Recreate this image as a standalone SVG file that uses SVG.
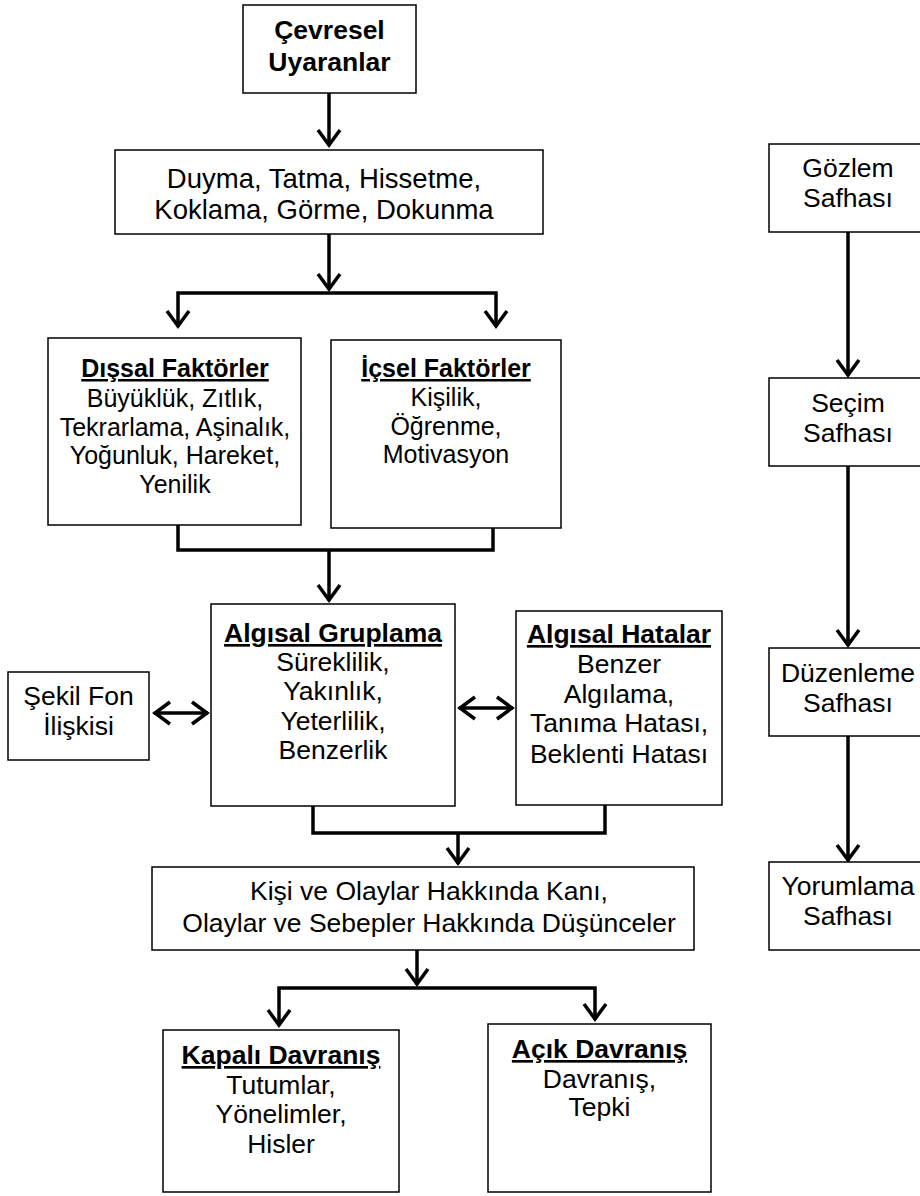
<svg xmlns="http://www.w3.org/2000/svg" width="920" height="1196" viewBox="0 0 920 1196">
<style>
.box{fill:#fff;stroke:#000;stroke-width:1.5}
text{font-family:"Liberation Sans",Arial,sans-serif;font-size:26.5px;fill:#000;text-anchor:middle}
.h{font-weight:bold;text-decoration:underline}
.b{font-weight:bold}
.big{font-size:27.5px}
.sm{font-size:25px}
.c{fill:none;stroke:#000;stroke-width:3.5}
</style>
<defs>
<marker id="ah" viewBox="-20 -14 26 28" markerWidth="26" markerHeight="28" refX="1" refY="0" markerUnits="userSpaceOnUse" orient="auto-start-reverse">
<path d="M-15,-11 L0,0 L-15,11" fill="none" stroke="#000" stroke-width="3.5"/>
</marker>
</defs>
<rect width="920" height="1196" fill="#fff"/>
<g id="connectors">
<path class="c" d="M329,93 V146" marker-end="url(#ah)"/>
<path class="c" d="M329,234 V290" marker-end="url(#ah)"/>
<path class="c" d="M178,327 V293 H496 V327" marker-start="url(#ah)" marker-end="url(#ah)"/>
<path class="c" d="M178,525 V550 H493 V528"/>
<path class="c" d="M329,550 V601" marker-end="url(#ah)"/>
<path class="c" d="M154,713 H208" marker-start="url(#ah)" marker-end="url(#ah)"/>
<path class="c" d="M459,708 H513" marker-start="url(#ah)" marker-end="url(#ah)"/>
<path class="c" d="M313,806 V833 H605 V805"/>
<path class="c" d="M458,833 V864" marker-end="url(#ah)"/>
<path class="c" d="M417,950 V985"  marker-end="url(#ah)"/>
<path class="c" d="M279,1026 V988 H595 V1020" marker-start="url(#ah)" marker-end="url(#ah)"/>
<path class="c" d="M848,232 V376" marker-end="url(#ah)"/>
<path class="c" d="M848,466 V646" marker-end="url(#ah)"/>
<path class="c" d="M848,736 V861" marker-end="url(#ah)"/>
</g>
<g id="cevresel">
<rect class="box" x="243" y="5" width="173" height="88"/>
<text class="b" x="329.5" y="39">Çevresel</text>
<text class="b" x="329.5" y="71">Uyaranlar</text>
</g>
<g id="duyular">
<rect class="box" x="115" y="150" width="428" height="84"/>
<text class="big" x="324" y="188">Duyma, Tatma, Hissetme,</text>
<text class="big" x="324" y="219">Koklama, Görme, Dokunma</text>
</g>
<g id="dissal">
<rect class="box" x="48" y="338" width="253" height="187"/>
<text class="h sm" x="175" y="377">Dışsal Faktörler</text>
<text class="sm" x="175" y="407">Büyüklük, Zıtlık,</text>
<text class="sm" x="175" y="436">Tekrarlama, Aşinalık,</text>
<text class="sm" x="175" y="464">Yoğunluk, Hareket,</text>
<text class="sm" x="175" y="493">Yenilik</text>
</g>
<g id="icsel">
<rect class="box" x="331" y="340" width="230" height="188"/>
<text class="h sm" x="446" y="377">İçsel Faktörler</text>
<text class="sm" x="446" y="406">Kişilik,</text>
<text class="sm" x="446" y="435">Öğrenme,</text>
<text class="sm" x="446" y="463">Motivasyon</text>
</g>
<g id="gruplama">
<rect class="box" x="211" y="604" width="244" height="202"/>
<text class="h" x="333" y="642">Algısal Gruplama</text>
<text x="333" y="671">Süreklilik,</text>
<text x="333" y="700">Yakınlık,</text>
<text x="333" y="730">Yeterlilik,</text>
<text x="333" y="759">Benzerlik</text>
</g>
<g id="sekilfon">
<rect class="box" x="8" y="672" width="141" height="88"/>
<text x="78.5" y="705">Şekil Fon</text>
<text x="78.5" y="735">İlişkisi</text>
</g>
<g id="hatalar">
<rect class="box" x="516" y="611" width="206" height="194"/>
<text class="h" x="619" y="643">Algısal Hatalar</text>
<text x="619" y="673">Benzer</text>
<text x="619" y="703">Algılama,</text>
<text x="619" y="732">Tanıma Hatası,</text>
<text x="619" y="763">Beklenti Hatası</text>
</g>
<g id="kani">
<rect class="box" x="152" y="867" width="542" height="83"/>
<text x="429" y="900">Kişi ve Olaylar Hakkında Kanı,</text>
<text x="429" y="932">Olaylar ve Sebepler Hakkında Düşünceler</text>
</g>
<g id="kapali">
<rect class="box" x="163" y="1030" width="236" height="162"/>
<text class="h" x="281" y="1064">Kapalı Davranış</text>
<text x="281" y="1094">Tutumlar,</text>
<text x="281" y="1123">Yönelimler,</text>
<text x="281" y="1153">Hisler</text>
</g>
<g id="acik">
<rect class="box" x="488" y="1024" width="223" height="168"/>
<text class="h" x="599.5" y="1058">Açık Davranış</text>
<text x="599.5" y="1088">Davranış,</text>
<text x="599.5" y="1116">Tepki</text>
</g>
<g id="gozlem">
<rect class="box" x="769" y="144" width="170" height="88"/>
<text x="848" y="177">Gözlem</text>
<text x="848" y="207">Safhası</text>
</g>
<g id="secim">
<rect class="box" x="769" y="378" width="170" height="88"/>
<text x="848" y="412">Seçim</text>
<text x="848" y="442">Safhası</text>
</g>
<g id="duzenleme">
<rect class="box" x="769" y="648" width="170" height="88"/>
<text x="848" y="682">Düzenleme</text>
<text x="848" y="712">Safhası</text>
</g>
<g id="yorumlama">
<rect class="box" x="769" y="862" width="170" height="88"/>
<text x="848" y="895">Yorumlama</text>
<text x="848" y="925">Safhası</text>
</g>
</svg>
